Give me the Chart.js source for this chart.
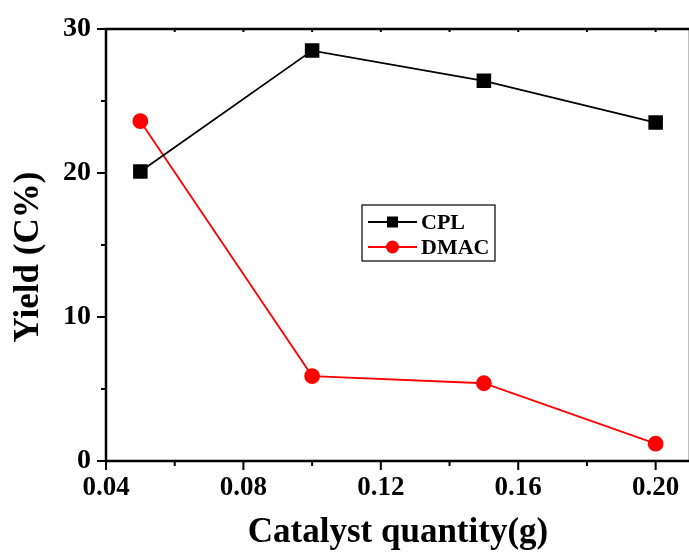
<!DOCTYPE html>
<html>
<head>
<meta charset="utf-8">
<script src="https://cdn.jsdelivr.net/npm/chart.js@4/dist/chart.umd.min.js"></script>
<style>
  html, body { margin: 0; padding: 0; background: #fff; overflow: hidden; }
  /* putin mai lat decat fereastra: cadrul din dreapta iese din imagine, ca in original */
  #wrap { width: 692px; height: 557px; }
</style>
</head>
<body>
<div id="wrap"><canvas id="yieldChart"></canvas></div>
<script>
// catalyst quantity (g)
const quantities = [0.05, 0.10, 0.15, 0.20];
// yields (C%)
const cplYield = [20.1, 28.5, 26.4, 23.5];
const dmacYield = [23.6, 5.9, 5.4, 1.2];
// tick values
const xTicks = [0.04, 0.06, 0.08, 0.10, 0.12, 0.14, 0.16, 0.18, 0.20];
const xLabeled = [0.04, 0.08, 0.12, 0.16, 0.20];
const yTicks = [0, 5, 10, 15, 20, 25, 30];
const yLabeled = [0, 10, 20, 30];
const xMin = 0.04, xMax = 0.21;

const serif = "'Liberation Serif', 'Times New Roman', serif";
const yTitle = 'Yield (C%)';

function toPoints(ys) {
    return quantities.map((q, i) => ({ x: q, y: ys[i] }));
}
function isLabeled(list, v) {
    return list.some(t => Math.abs(t - v) < 1e-9);
}

// cadru + gradatii (majore lungi, minore scurte) + titlul axei Y
const frameTicks = {
    id: 'frameTicks',
    afterDraw(chart) {
        const ctx = chart.ctx;
        const a = chart.chartArea;
        const xs = chart.scales.x, ys = chart.scales.y;
        ctx.save();
        ctx.strokeStyle = '#000';
        ctx.lineWidth = 2.5;
        ctx.beginPath();
        ctx.moveTo(a.left, a.bottom);
        ctx.lineTo(a.left, a.top);
        ctx.lineTo(a.right, a.top);
        ctx.lineTo(a.right, a.bottom);
        ctx.lineTo(a.left, a.bottom);
        ctx.stroke();
        ctx.lineWidth = 2;
        ctx.beginPath();
        xTicks.forEach(v => {
            const px = xs.getPixelForValue(v);
            const len = isLabeled(xLabeled, v) ? 9 : 5;
            ctx.moveTo(px, a.bottom);
            ctx.lineTo(px, a.bottom + len);
            ctx.moveTo(px, a.top);
            ctx.lineTo(px, a.top + 3);
        });
        yTicks.forEach(v => {
            const py = ys.getPixelForValue(v);
            const len = isLabeled(yLabeled, v) ? 9 : 5;
            ctx.moveTo(a.left, py);
            ctx.lineTo(a.left - len, py);
        });
        ctx.stroke();

        // titlul Y, putin sub mijlocul axei ca in original
        ctx.translate(29, (a.top + a.bottom) / 2 + 12);
        ctx.rotate(-Math.PI / 2);
        ctx.fillStyle = '#000';
        ctx.font = 'bold 35px ' + serif;
        ctx.textAlign = 'center';
        ctx.textBaseline = 'middle';
        ctx.fillText(yTitle, 0, 0);
        ctx.restore();
    }
};

// legenda in interior, linie-marker-linie
const boxLegend = {
    id: 'boxLegend',
    afterDraw(chart) {
        const ctx = chart.ctx;
        const x0 = 362, y0 = 205, w = 133, h = 56;
        ctx.save();
        ctx.fillStyle = '#fff';
        ctx.fillRect(x0, y0, w, h);
        ctx.strokeStyle = '#000';
        ctx.lineWidth = 1.2;
        ctx.strokeRect(x0, y0, w, h);
        chart.data.datasets.forEach((ds, i) => {
            const cy = y0 + 17 + i * 25;
            ctx.strokeStyle = ds.borderColor;
            ctx.lineWidth = 1.8;
            ctx.beginPath();
            ctx.moveTo(368, cy);
            ctx.lineTo(417, cy);
            ctx.stroke();
            ctx.fillStyle = ds.pointBackgroundColor;
            if (ds.pointStyle === 'rect') {
                ctx.fillRect(387, cy - 5.5, 11, 11);
            } else {
                ctx.beginPath();
                ctx.arc(392.5, cy, 6.5, 0, Math.PI * 2);
                ctx.fill();
            }
            ctx.fillStyle = '#000';
            ctx.font = 'bold 22px ' + serif;
            ctx.textBaseline = 'middle';
            ctx.fillText(ds.label, 421, cy + 1);
        });
        ctx.restore();
    }
};

new Chart(document.getElementById('yieldChart'), {
    type: 'line',
    data: {
        datasets: [{
            label: 'CPL',
            data: toPoints(cplYield),
            borderColor: '#000',
            backgroundColor: '#000',
            pointBackgroundColor: '#000',
            pointBorderColor: '#000',
            pointStyle: 'rect',
            pointRadius: 9,
            borderWidth: 1.8,
            tension: 0
        }, {
            label: 'DMAC',
            data: toPoints(dmacYield),
            borderColor: '#ff0000',
            backgroundColor: '#ff0000',
            pointBackgroundColor: '#ff0000',
            pointBorderColor: '#ff0000',
            pointStyle: 'circle',
            pointRadius: 7,
            borderWidth: 1.8,
            tension: 0
        }]
    },
    options: {
        responsive: true,
        maintainAspectRatio: false,
        animation: false,
        layout: { autoPadding: false, padding: { top: 29, right: 0, left: 0, bottom: 0 } },
        plugins: { legend: { display: false }, tooltip: { enabled: false } },
        scales: {
            x: {
                type: 'linear',
                min: xMin,
                max: xMax,
                // ultimul tick (gol) la max ca sa nu se adauge padding in dreapta
                afterBuildTicks: s => { s.ticks = xTicks.concat([xMax]).map(v => ({ value: v })); },
                afterFit: s => { s.height = 96; },
                grid: { display: true, drawOnChartArea: false, drawTicks: true, tickLength: 9, tickColor: 'rgba(0,0,0,0)' },
                border: { display: false },
                ticks: {
                    padding: 2,
                    color: '#000',
                    maxRotation: 0,
                    autoSkip: false,
                    font: { family: serif, size: 27, weight: 'bold' },
                    callback: v => isLabeled(xLabeled, v) ? v.toFixed(2) : ''
                },
                title: {
                    display: true,
                    text: 'Catalyst quantity(g)',
                    color: '#000',
                    font: { family: serif, size: 35, weight: 'bold' },
                    padding: { top: 0, bottom: 3 }
                }
            },
            y: {
                min: 0,
                max: 30,
                afterBuildTicks: s => { s.ticks = yTicks.map(v => ({ value: v })); },
                afterFit: s => { s.width = 106; },
                grid: { display: true, drawOnChartArea: false, drawTicks: true, tickLength: 9, tickColor: 'rgba(0,0,0,0)' },
                border: { display: false },
                ticks: {
                    padding: 6,
                    color: '#000',
                    autoSkip: false,
                    font: { family: serif, size: 28, weight: 'bold' },
                    callback: v => isLabeled(yLabeled, v) ? String(v) : ''
                },
                title: { display: false }
            }
        }
    },
    plugins: [frameTicks, boxLegend]
});
</script>
</body>
</html>
